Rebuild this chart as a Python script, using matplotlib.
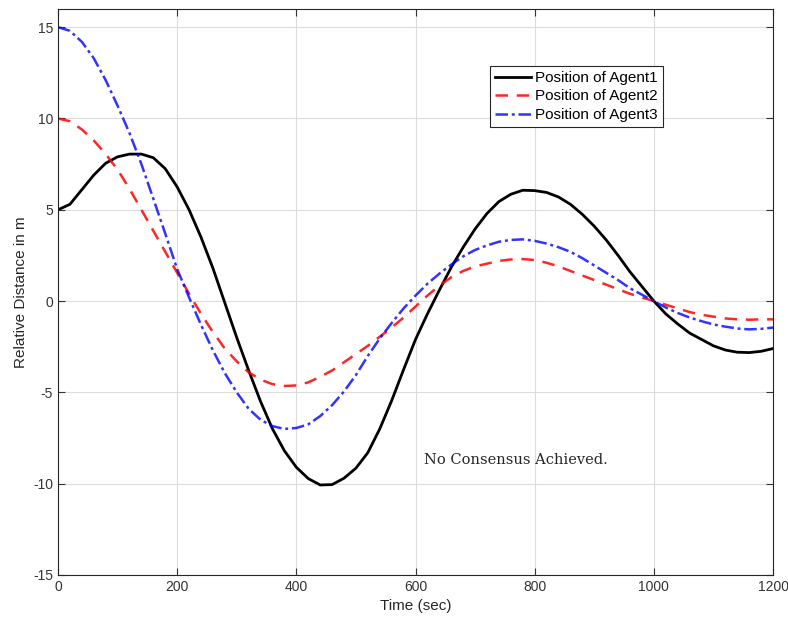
import numpy as np
import matplotlib
matplotlib.use('Agg')
import matplotlib.pyplot as plt

plt.rcParams['font.family'] = ['Liberation Sans', 'DejaVu Sans']
plt.rcParams['axes.unicode_minus'] = False

# Time samples (sec)
t = np.arange(0, 1201, 20)

# Positions (m)
agent1 = [5.0, 5.3, 6.1, 6.9, 7.55, 7.9, 8.05, 8.05, 7.85, 7.25,
          6.25, 5.0, 3.5, 1.8, -0.1, -2.0, -3.8, -5.5, -7.0, -8.2,
          -9.1, -9.72, -10.07, -10.05, -9.7, -9.15, -8.3, -7.0, -5.45, -3.75,
          -2.1, -0.7, 0.6, 1.85, 2.95, 3.95, 4.8, 5.45, 5.85, 6.07,
          6.05, 5.95, 5.7, 5.3, 4.75, 4.1, 3.35, 2.5, 1.6, 0.8,
          0.0, -0.7, -1.25, -1.75, -2.1, -2.45, -2.68, -2.8, -2.82, -2.75,
          -2.6]
agent2 = [10.0, 9.85, 9.4, 8.8, 8.05, 7.2, 6.15, 5.0, 3.85, 2.7,
          1.55, 0.4, -0.7, -1.7, -2.6, -3.3, -3.9, -4.3, -4.55, -4.65,
          -4.62, -4.45, -4.15, -3.8, -3.35, -2.9, -2.45, -1.95, -1.45, -0.9,
          -0.3, 0.3, 0.85, 1.3, 1.65, 1.9, 2.05, 2.2, 2.28, 2.3,
          2.25, 2.1, 1.9, 1.65, 1.4, 1.15, 0.9, 0.65, 0.4, 0.2,
          0.0, -0.2, -0.4, -0.6, -0.75, -0.85, -0.95, -1.0, -1.02, -1.0,
          -1.0]
agent3 = [15.0, 14.8, 14.2, 13.3, 12.1, 10.7, 9.2, 7.5, 5.6, 3.7,
          1.75, 0.2, -1.3, -2.7, -3.95, -5.0, -5.9, -6.5, -6.85, -7.0,
          -6.95, -6.75, -6.3, -5.7, -4.95, -4.05, -3.0, -2.05, -1.2, -0.4,
          0.3, 0.95, 1.5, 2.0, 2.45, 2.8, 3.05, 3.25, 3.35, 3.38,
          3.3, 3.15, 2.95, 2.7, 2.35, 1.95, 1.55, 1.15, 0.7, 0.35,
          0.0, -0.35, -0.65, -0.9, -1.1, -1.28, -1.4, -1.5, -1.55, -1.52,
          -1.45]

fig = plt.figure(figsize=(7.88, 6.2), dpi=100)
ax = fig.add_axes([0.0736, 0.0726, 0.9074, 0.913])

ax.plot(t, agent1, color='black', lw=2.0, label='Position of Agent1')
ax.plot(t, agent2, color='red', lw=1.8, ls=(0, (5, 3.5)), alpha=0.85,
        label='Position of Agent2')
ax.plot(t, agent3, color='blue', lw=1.8, ls=(0, (5, 1.5, 1.2, 1.5)), alpha=0.8,
        label='Position of Agent3')

ax.set_xlim(0, 1200)
ax.set_ylim(-15, 16)
ax.set_xticks(np.arange(0, 1201, 200))
ax.set_yticks(np.arange(-15, 16, 5))
ax.grid(True, color='#dcdcdc', lw=0.8)
ax.set_axisbelow(True)
ax.tick_params(direction='in', top=True, right=True, labelsize=10,
               colors='#333333', length=5)
for s in ax.spines.values():
    s.set_color('#262626')
    s.set_linewidth(0.8)

ax.set_xlabel('Time (sec)', fontsize=11, color='#262626')
ax.set_ylabel('Relative Distance in m', fontsize=11, color='#262626')

ax.text(614, -8.7, 'No Consensus Achieved.', fontsize=10.5,
        family='DejaVu Serif', va='center', ha='left', color='#262626')

leg = ax.legend(loc='upper left', bbox_to_anchor=(0.604, 0.9), fontsize=11,
                fancybox=False, framealpha=1, edgecolor='#262626',
                handlelength=2.35, borderpad=0.35, labelspacing=0.3,
                handletextpad=0.25, borderaxespad=0)
leg.get_frame().set_linewidth(0.8)

fig.savefig('out.png', dpi=100)
